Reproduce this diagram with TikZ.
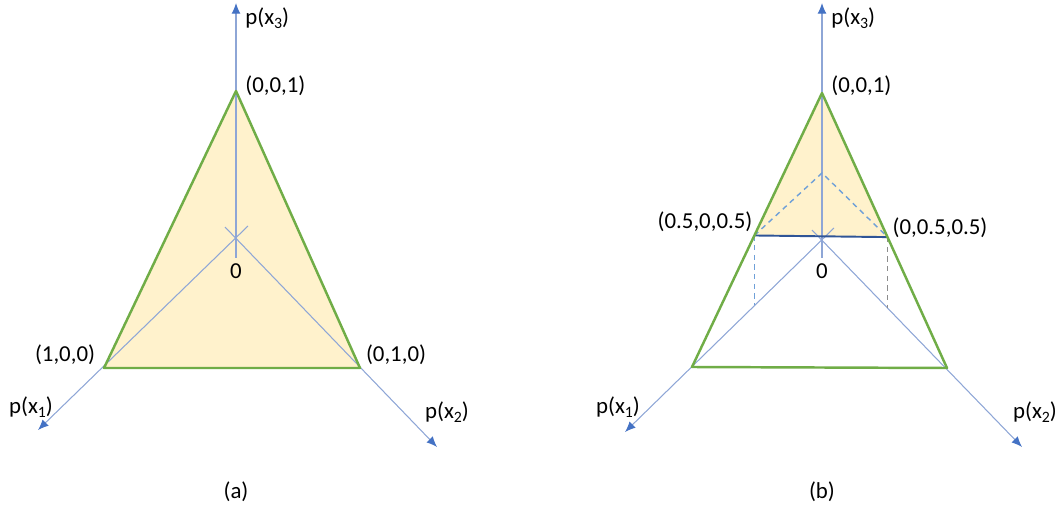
\documentclass[tikz,border=0pt]{standalone}
\usepackage{fontspec}
\setmainfont{Carlito}
\usetikzlibrary{arrows.meta,calc}
\definecolor{axisblue}{HTML}{4472C4}
\definecolor{axisline}{HTML}{8EA6D6}
\definecolor{simplexgreen}{HTML}{70AD47}
\definecolor{simplexfill}{HTML}{FFF2CC}
\definecolor{chordblue}{HTML}{2F5597}
\definecolor{dashblue}{HTML}{6FA0D8}
\tikzset{
  axis/.style={draw=axisline, line width=0.6pt,
    -{Latex[length=6pt,width=5pt,color=axisblue]}},
  simplex/.style={draw=simplexgreen, line width=1.4pt, line join=round},
  proj/.style={draw=dashblue, line width=0.8pt, dash pattern=on 3pt off 2.5pt},
  lbl/.style={font=\fontsize{13}{15}\selectfont, inner sep=0pt}
}
\newcommand{\pxsub}[1]{p(x\raisebox{-0.35ex}{\fontsize{9}{10}\selectfont #1})}
\begin{document}
\begin{tikzpicture}[x=0.02cm,y=-0.02cm]
  \useasboundingbox (0,0) rectangle (1063,510);
  % (a) the full simplex
  \coordinate (oA) at (236,238);
  \coordinate (a001) at (236,91);
  \coordinate (a100) at (104,368);
  \coordinate (a010) at (360,368);
  \coordinate (s1A) at (248,226);
  \coordinate (s2A) at (225,227);
  \coordinate (s3A) at (236,258);
  \coordinate (t1A) at (38,430);
  \coordinate (t2A) at (437,447);
  \coordinate (t3A) at (236,3);
  \fill[simplexfill] (a001) -- (a100) -- (a010) -- cycle;
  \draw[axis] (s1A) -- (t1A);
  \draw[axis] (s2A) -- (t2A);
  \draw[axis] (s3A) -- (t3A);
  \draw[simplex] (a001) -- (a100) -- (a010) -- cycle;
  \node[lbl,anchor=west] (x3A) at (245,18) {\pxsub{3}};
  \node[lbl,anchor=west] (l001A) at (245,86) {(0,0,1)};
  \node[lbl] (l100A) at (65,355) {(1,0,0)};
  \node[lbl] (l010A) at (396,355) {(0,1,0)};
  \node[lbl] (x1A) at (31,407) {\pxsub{1}};
  \node[lbl] (x2A) at (447,412) {\pxsub{2}};
  \node[lbl] (zA) at (236,271) {0};
  \node[lbl] (capA) at (236,492) {(a)};
  % (b) the part with p(x3) >= 0.5
  \coordinate (oB) at (822,240);
  \coordinate (b001) at (822,93);
  \coordinate (b100) at (692,367);
  \coordinate (b010) at (947,368);
  \coordinate (s1B) at (834,228);
  \coordinate (s2B) at (812,230);
  \coordinate (s3B) at (822,258);
  \coordinate (t1B) at (625,432);
  \coordinate (t2B) at (1022,447);
  \coordinate (t3B) at (822,3);
  \coordinate (m1B) at ($(b001)!0.52!(b100)$);
  \coordinate (m2B) at ($(b001)!0.524!(b010)$);
  \coordinate (pkB) at (822,173);
  \coordinate (f1B) at ($(oB)!0.515!(b100)$);
  \coordinate (f2B) at ($(oB)!0.53!(b010)$);
  \fill[simplexfill] (b001) -- (m1B) -- (m2B) -- cycle;
  \draw[axis] (s1B) -- (t1B);
  \draw[axis] (s2B) -- (t2B);
  \draw[axis] (s3B) -- (t3B);
  \draw[proj] (m1B) -- (pkB) -- (m2B);
  \draw[proj] (m1B) -- (m1B |- f1B);
  \draw[proj,draw=black!45] (m2B) -- (m2B |- f2B);
  \draw[chordblue,line width=1.1pt] (m1B) -- (m2B);
  \draw[simplex] (b001) -- (b100) -- (b010) -- cycle;
  \node[lbl,anchor=west] (x3B) at (831,18) {\pxsub{3}};
  \node[lbl,anchor=west] (l001B) at (831,86) {(0,0,1)};
  \node[lbl] (l101B) at (705,222) {(0.5,0,0.5)};
  \node[lbl] (l011B) at (940,228) {(0,0.5,0.5)};
  \node[lbl] (x1B) at (618,407) {\pxsub{1}};
  \node[lbl] (x2B) at (1035,412) {\pxsub{2}};
  \node[lbl] (zB) at (822,271) {0};
  \node[lbl] (capB) at (822,492) {(b)};
\end{tikzpicture}
\end{document}
